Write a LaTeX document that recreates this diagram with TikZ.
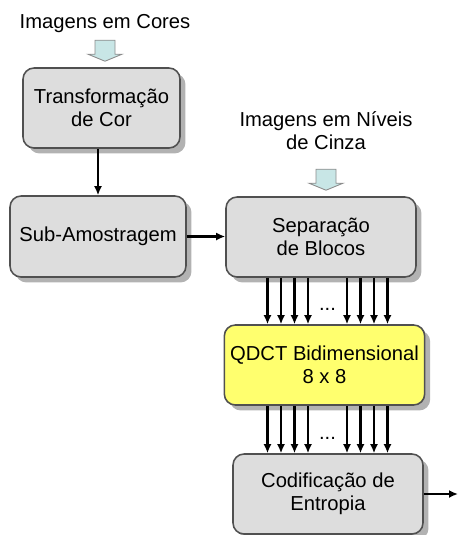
\documentclass[tikz,border=0pt]{standalone}
\usepackage{fontspec}
\setmainfont{Liberation Sans}
\usepackage{tikz}
\usetikzlibrary{arrows.meta}
\usetikzlibrary{calc}
\usetikzlibrary{shadows}
\definecolor{boxgray}{RGB}{221,221,221}
\definecolor{boxline}{RGB}{80,80,80}
\definecolor{qyellow}{RGB}{255,255,110}
\definecolor{incyan}{RGB}{200,230,230}
\tikzset{
	stage/.style={draw=boxline, line width=0.9pt, fill=boxgray, rounded corners=0.22cm,
		align=center, font=\fontsize{11.5}{13.2}\selectfont,
		drop shadow={shadow xshift=0.11cm, shadow yshift=-0.11cm, fill=black!30, opacity=1}},
	caption/.style={align=center, font=\fontsize{11.5}{13.2}\selectfont},
	flow/.style={line width=1.4pt, -{Latex[length=0.18cm, width=0.16cm]}}
}
\newcommand{\drawinarrow}[2]{   % label, box
	\draw[fill=incyan, draw=black!45, line width=0.5pt]
		($(#1.south |- #2.north)+(-10,-27)$) -- ++(20,0) -- ++(0,14) -- ++(7,0)
		-- ($(#1.south |- #2.north)+(0,-6)$) -- ++(-17,-7) -- ++(7,0) -- cycle;
}
\newcommand{\drawbus}[2]{   % upper box, lower box
	\foreach \dx in {-60, -46.5, -33, -19.5, 19.5, 33, 46.5, 60}
		\draw[flow] ($(busx |- #1.south)+(\dx,0)$) -- ($(busx |- #2.north)+(\dx,0)$);
	\node[caption] at ($(busx |- #1.south)!0.68!(busx |- #2.north)$) {...};
}

\begin{document}
\begin{tikzpicture}[x=0.02cm, y=-0.02cm]
\useasboundingbox (0,0) rectangle (459,535);

\node[caption] (colorin) at (105,24) {Imagens em Cores};
\node[caption] (grayin) at (326,131) {Imagens em Níveis\\de Cinza};

\node[stage, minimum width=3.14cm, minimum height=1.6cm] (trans) at (101.5,108) {Transformação\\de Cor};
\node[stage, minimum width=3.52cm, minimum height=1.62cm] (sub) at (98,236.5) {Sub-Amostragem};
\node[stage, minimum width=3.8cm, minimum height=1.6cm] (sep) at (321,237) {Separação\\de Blocos};
\node[stage, fill=qyellow, minimum width=3.9cm, minimum height=1.6cm] (qdct) at (324.5,365) {QDCT Bidimensional\\8 x 8};
\node[stage, minimum width=3.8cm, minimum height=1.6cm] (cod) at (328,494) {Codificação de\\Entropia};

\coordinate (busx) at (327.5,0);
\coordinate (out) at (458,0);

\drawinarrow{colorin}{trans}
\drawinarrow{grayin}{sep}

\draw[flow] (trans.south -| sub.north) -- (sub.north);
\draw[flow] (sub.east) -- (sub.east -| sep.west);
\drawbus{sep}{qdct}
\drawbus{qdct}{cod}
\draw[flow] (cod.east) -- (cod.east -| out);
\end{tikzpicture}
\end{document}
